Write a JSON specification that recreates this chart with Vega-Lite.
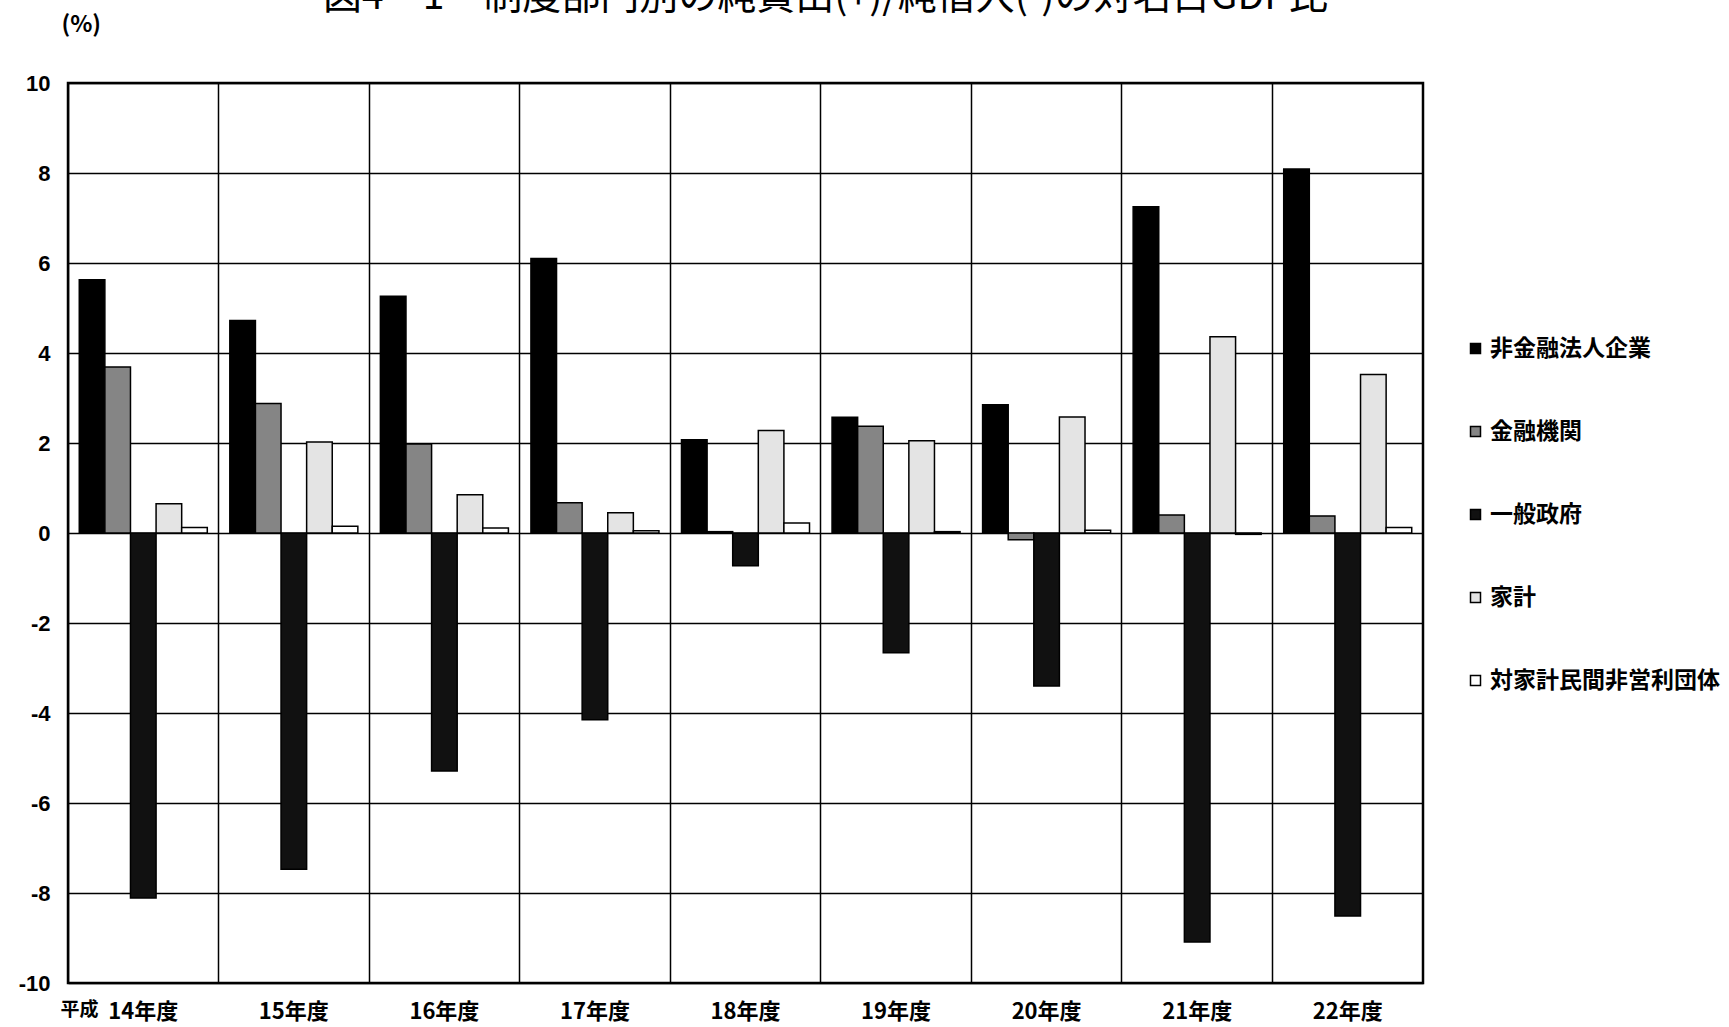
{
  "$schema": "https://vega.github.io/schema/vega-lite/v6.json",
  "autosize": {"type": "none"},
  "padding": {"left": 68, "top": 83, "right": 306, "bottom": 44},
  "width": 1355,
  "height": 900,
  "background": "white",
  "title": {
    "text": "図4－1　制度部門別の純貸出(+)/純借入(-)の対名目GDP比",
    "font": "Noto Sans CJK JP",
    "fontSize": 39,
    "fontWeight": "normal",
    "color": "black",
    "anchor": "middle",
    "frame": "group",
    "dx": 80,
    "offset": 0,
    "dy": 4
  },
  "data": {
    "values": [
      {"year": "14年度", "series": "非金融法人企業", "value": 5.63},
      {"year": "14年度", "series": "金融機関", "value": 3.69},
      {"year": "14年度", "series": "一般政府", "value": -8.11},
      {"year": "14年度", "series": "家計", "value": 0.65},
      {"year": "14年度", "series": "対家計民間非営利団体", "value": 0.12},
      {"year": "15年度", "series": "非金融法人企業", "value": 4.72},
      {"year": "15年度", "series": "金融機関", "value": 2.88},
      {"year": "15年度", "series": "一般政府", "value": -7.47},
      {"year": "15年度", "series": "家計", "value": 2.02},
      {"year": "15年度", "series": "対家計民間非営利団体", "value": 0.15},
      {"year": "16年度", "series": "非金融法人企業", "value": 5.26},
      {"year": "16年度", "series": "金融機関", "value": 1.98},
      {"year": "16年度", "series": "一般政府", "value": -5.29},
      {"year": "16年度", "series": "家計", "value": 0.85},
      {"year": "16年度", "series": "対家計民間非営利団体", "value": 0.11},
      {"year": "17年度", "series": "非金融法人企業", "value": 6.10},
      {"year": "17年度", "series": "金融機関", "value": 0.67},
      {"year": "17年度", "series": "一般政府", "value": -4.15},
      {"year": "17年度", "series": "家計", "value": 0.45},
      {"year": "17年度", "series": "対家計民間非営利団体", "value": 0.05},
      {"year": "18年度", "series": "非金融法人企業", "value": 2.07},
      {"year": "18年度", "series": "金融機関", "value": 0.03},
      {"year": "18年度", "series": "一般政府", "value": -0.73},
      {"year": "18年度", "series": "家計", "value": 2.28},
      {"year": "18年度", "series": "対家計民間非営利団体", "value": 0.22},
      {"year": "19年度", "series": "非金融法人企業", "value": 2.57},
      {"year": "19年度", "series": "金融機関", "value": 2.37},
      {"year": "19年度", "series": "一般政府", "value": -2.66},
      {"year": "19年度", "series": "家計", "value": 2.05},
      {"year": "19年度", "series": "対家計民間非営利団体", "value": 0.03},
      {"year": "20年度", "series": "非金融法人企業", "value": 2.85},
      {"year": "20年度", "series": "金融機関", "value": -0.15},
      {"year": "20年度", "series": "一般政府", "value": -3.40},
      {"year": "20年度", "series": "家計", "value": 2.58},
      {"year": "20年度", "series": "対家計民間非営利団体", "value": 0.06},
      {"year": "21年度", "series": "非金融法人企業", "value": 7.25},
      {"year": "21年度", "series": "金融機関", "value": 0.40},
      {"year": "21年度", "series": "一般政府", "value": -9.09},
      {"year": "21年度", "series": "家計", "value": 4.36},
      {"year": "21年度", "series": "対家計民間非営利団体", "value": -0.03},
      {"year": "22年度", "series": "非金融法人企業", "value": 8.09},
      {"year": "22年度", "series": "金融機関", "value": 0.38},
      {"year": "22年度", "series": "一般政府", "value": -8.51},
      {"year": "22年度", "series": "家計", "value": 3.52},
      {"year": "22年度", "series": "対家計民間非営利団体", "value": 0.12}
    ]
  },
  "mark": {"type": "bar", "stroke": "black", "strokeWidth": 1.5},
  "encoding": {
    "x": {
      "field": "year",
      "type": "nominal",
      "sort": null,
      "scale": {"paddingInner": 0, "paddingOuter": 0},
      "axis": {
        "grid": true,
        "bandPosition": 0,
        "gridColor": "black",
        "gridWidth": 1.5,
        "gridOpacity": 1,
        "ticks": false,
        "domain": false,
        "labelAngle": 0,
        "labelFont": "Noto Sans CJK JP",
        "labelFontSize": 22,
        "labelFontWeight": "bold",
        "labelColor": "black",
        "labelPadding": 18,
        "title": "平成",
        "titleFont": "Noto Sans CJK JP",
        "titleFontSize": 19,
        "titleFontWeight": "bold",
        "titleColor": "black",
        "titleAlign": "left",
        "titleAnchor": null,
        "titleBaseline": "middle",
        "titleX": -8,
        "titleY": 26
      }
    },
    "xOffset": {
      "field": "series",
      "type": "nominal",
      "sort": ["非金融法人企業", "金融機関", "一般政府", "家計", "対家計民間非営利団体"],
      "scale": {"paddingInner": 0, "paddingOuter": 0.44}
    },
    "y": {
      "field": "value",
      "type": "quantitative",
      "scale": {"domain": [-10, 10], "nice": false},
      "axis": {
        "values": [-10, -8, -6, -4, -2, 0, 2, 4, 6, 8, 10],
        "labelExpr": "datum.value + ''",
        "grid": true,
        "gridColor": "black",
        "gridWidth": 1.5,
        "gridOpacity": 1,
        "ticks": false,
        "domain": false,
        "labelFont": "Liberation Sans",
        "labelFontSize": 22,
        "labelFontWeight": "bold",
        "labelColor": "black",
        "labelPadding": 18,
        "title": "(%)",
        "titleFont": "Noto Sans CJK JP",
        "titleFontSize": 23,
        "titleFontWeight": "bold",
        "titleColor": "black",
        "titleAngle": 0,
        "titleAlign": "left",
        "titleAnchor": null,
        "titleBaseline": "middle",
        "titleX": -7,
        "titleY": -59
      }
    },
    "fill": {
      "field": "series",
      "type": "nominal",
      "scale": {
        "domain": ["非金融法人企業", "金融機関", "一般政府", "家計", "対家計民間非営利団体"],
        "range": ["#000000", "#858585", "#111111", "#e4e4e4", "#ffffff"]
      },
      "legend": {
        "title": null,
        "orient": "none",
        "legendX": 1396,
        "legendY": 254,
        "padding": 0,
        "symbolType": "square",
        "symbolSize": 100,
        "symbolStrokeColor": "black",
        "symbolStrokeWidth": 1.5,
        "labelFont": "Noto Sans CJK JP",
        "labelFontSize": 23,
        "labelFontWeight": "bold",
        "labelColor": "black",
        "labelOffset": 3,
        "labelLimit": 400,
        "rowPadding": 59
      }
    }
  },
  "config": {
    "view": {"stroke": "black", "strokeWidth": 2.5},
    "font": "Noto Sans CJK JP"
  }
}
